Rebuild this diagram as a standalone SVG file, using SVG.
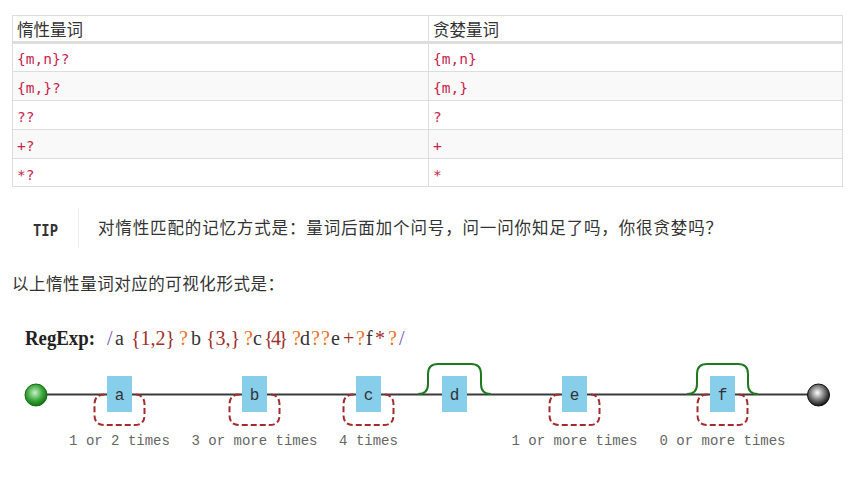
<svg xmlns="http://www.w3.org/2000/svg" width="856" height="488" viewBox="0 0 856 488">
<defs>
<radialGradient id="gStart" cx="0.45" cy="0.4" r="0.6">
<stop offset="0" stop-color="#c8f0c8"/>
<stop offset="0.6" stop-color="#3aa53a"/>
<stop offset="1" stop-color="#137013"/>
</radialGradient>
<radialGradient id="gEnd" cx="0.45" cy="0.4" r="0.6">
<stop offset="0" stop-color="#ffffff"/>
<stop offset="0.55" stop-color="#777777"/>
<stop offset="1" stop-color="#111111"/>
</radialGradient>
<style>
.cjk{font-family:"Noto Sans CJK SC","Noto Sans",sans-serif;font-size:16.5px;fill:#333}
.code{font-family:"DejaVu Sans Mono","Liberation Mono",monospace;font-size:14.5px;fill:#c7254e}
.grid{stroke:#dddddd;stroke-width:1;fill:none}
.box{fill:#87ceeb}
.lbl{font-family:"Liberation Mono","DejaVu Sans Mono",monospace;font-size:14px;fill:#666;text-anchor:middle}
.ch{font-family:"Liberation Mono","DejaVu Sans Mono",monospace;font-size:16px;fill:#333;text-anchor:middle}
.loop{fill:none;stroke:#a52a2a;stroke-width:2;stroke-dasharray:6 3}
.skip{fill:none;stroke:#1f7a1f;stroke-width:2}
.rx{font-family:"Liberation Serif",serif;font-size:20px}
.q{fill:#a0302a}
.lz{fill:#f07020}
.sl{fill:#7a4fb0}
.lt{fill:#333}
</style>
</defs>
<rect width="856" height="488" fill="#ffffff"/>

<g id="table">
<rect x="12" y="71" width="831" height="29" fill="#f9f9f9"/>
<rect x="12" y="129" width="831" height="29" fill="#f9f9f9"/>
<rect class="grid" x="12.5" y="15.5" width="830" height="171"/>
<line x1="12" y1="42.5" x2="843" y2="42.5" stroke="#dddddd" stroke-width="3"/>
<line class="grid" x1="12" y1="71.5" x2="843" y2="71.5"/>
<line class="grid" x1="12" y1="100.5" x2="843" y2="100.5"/>
<line class="grid" x1="12" y1="129.5" x2="843" y2="129.5"/>
<line class="grid" x1="12" y1="158.5" x2="843" y2="158.5"/>
<line class="grid" x1="428.5" y1="15" x2="428.5" y2="187"/>
<text class="cjk" x="17" y="36">惰性量词</text>
<text class="cjk" x="433" y="36">贪婪量词</text>
<text class="code" x="17" y="64">{m,n}?</text>
<text class="code" x="433" y="64">{m,n}</text>
<text class="code" x="17" y="93">{m,}?</text>
<text class="code" x="433" y="93">{m,}</text>
<text class="code" x="17" y="122">??</text>
<text class="code" x="433" y="122">?</text>
<text class="code" x="17" y="151">+?</text>
<text class="code" x="433" y="151">+</text>
<text class="code" x="17" y="180">*?</text>
<text class="code" x="433" y="180">*</text>
</g>

<g id="tip">
<text x="33" y="236" font-family="'DejaVu Sans Mono','Liberation Mono',monospace" font-size="15" font-weight="bold" fill="#333" textLength="25" lengthAdjust="spacingAndGlyphs">TIP</text>
<line x1="78.5" y1="208" x2="78.5" y2="248" stroke="#eeeeee" stroke-width="1"/>
<text class="cjk" x="98" y="234" textLength="624" lengthAdjust="spacing">对惰性匹配的记忆方式是：量词后面加个问号，问一问你知足了吗，你很贪婪吗？</text>
</g>

<text class="cjk" x="12" y="290" textLength="272" lengthAdjust="spacing">以上惰性量词对应的可视化形式是：</text>

<g id="regexp" class="rx">
<text x="25" y="345" font-weight="bold" fill="#222" textLength="70" lengthAdjust="spacingAndGlyphs">RegExp:</text>
<text y="345">
<tspan class="sl" x="107">/</tspan>
<tspan class="lt" x="115">a</tspan>
<tspan class="q" x="131" textLength="44">{1,2}</tspan>
<tspan class="lz" x="179">?</tspan>
<tspan class="lt" x="191">b</tspan>
<tspan class="q" x="206" textLength="34">{3,}</tspan>
<tspan class="lz" x="244">?</tspan>
<tspan class="lt" x="253">c</tspan>
<tspan class="q" x="264" textLength="24">{4}</tspan>
<tspan class="lz" x="292">?</tspan>
<tspan class="lt" x="300">d</tspan>
<tspan class="lz" x="311">?</tspan>
<tspan class="lz" x="321">?</tspan>
<tspan class="lt" x="331">e</tspan>
<tspan class="q" x="343">+</tspan>
<tspan class="lz" x="356">?</tspan>
<tspan class="lt" x="366">f</tspan>
<tspan class="q" x="375">*</tspan>
<tspan class="lz" x="388">?</tspan>
<tspan class="sl" x="399">/</tspan>
</text>
</g>

<g id="connectors">
<line x1="36" y1="394.5" x2="818" y2="394.5" stroke="#3a3a3a" stroke-width="2.2"/>
<path class="loop" d="M104.5 394.5 Q94.5 394.5 94.5 404.5 L94.5 415 Q94.5 425 104.5 425 L134.5 425 Q144.5 425 144.5 415 L144.5 404.5 Q144.5 394.5 134.5 394.5"/>
<path class="loop" d="M239.5 394.5 Q229.5 394.5 229.5 404.5 L229.5 415 Q229.5 425 239.5 425 L269.5 425 Q279.5 425 279.5 415 L279.5 404.5 Q279.5 394.5 269.5 394.5"/>
<path class="loop" d="M353.5 394.5 Q343.5 394.5 343.5 404.5 L343.5 415 Q343.5 425 353.5 425 L383.5 425 Q393.5 425 393.5 415 L393.5 404.5 Q393.5 394.5 383.5 394.5"/>
<path class="loop" d="M559.5 394.5 Q549.5 394.5 549.5 404.5 L549.5 415 Q549.5 425 559.5 425 L589.5 425 Q599.5 425 599.5 415 L599.5 404.5 Q599.5 394.5 589.5 394.5"/>
<path class="loop" d="M707.5 394.5 Q697.5 394.5 697.5 404.5 L697.5 415 Q697.5 425 707.5 425 L737.5 425 Q747.5 425 747.5 415 L747.5 404.5 Q747.5 394.5 737.5 394.5"/>
<path class="skip" d="M418 394 Q428 394 428 384 L428 374 Q428 364 438 364 L471 364 Q481 364 481 374 L481 384 Q481 394 491 394"/>
<path class="skip" d="M687 394 Q697 394 697 384 L697 374 Q697 364 707 364 L738 364 Q748 364 748 374 L748 384 Q748 394 758 394"/>
</g>

<g id="start"><circle cx="36" cy="395" r="11" fill="url(#gStart)" stroke="#1a6a1a" stroke-width="1"/></g>
<g id="end"><circle cx="818.5" cy="395" r="11" fill="url(#gEnd)" stroke="#111" stroke-width="1"/></g>

<g id="node-a"><rect class="box" x="107" y="376" width="25" height="36"/><text class="ch" x="119.5" y="400">a</text></g>
<g id="node-b"><rect class="box" x="242" y="376" width="25" height="36"/><text class="ch" x="254.5" y="400">b</text></g>
<g id="node-c"><rect class="box" x="356" y="376" width="25" height="36"/><text class="ch" x="368.5" y="400">c</text></g>
<g id="node-d"><rect class="box" x="442" y="376" width="25" height="36"/><text class="ch" x="454.5" y="400">d</text></g>
<g id="node-e"><rect class="box" x="562" y="376" width="25" height="36"/><text class="ch" x="574.5" y="400">e</text></g>
<g id="node-f"><rect class="box" x="710" y="376" width="25" height="36"/><text class="ch" x="722.5" y="400">f</text></g>

<g id="labels">
<text class="lbl" x="119.5" y="445">1 or 2 times</text>
<text class="lbl" x="254.5" y="445">3 or more times</text>
<text class="lbl" x="368.5" y="445">4 times</text>
<text class="lbl" x="574.5" y="445">1 or more times</text>
<text class="lbl" x="722.5" y="445">0 or more times</text>
</g>
</svg>
